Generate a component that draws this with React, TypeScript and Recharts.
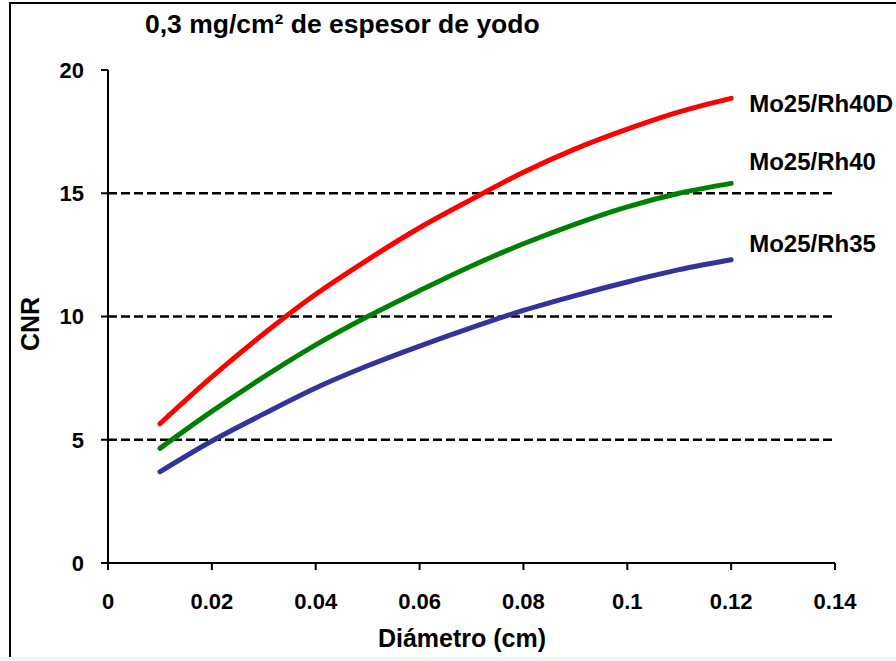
import { Line, LineChart, ReferenceLine, XAxis, YAxis } from "recharts";

const diameters = [0.01, 0.02, 0.03, 0.04, 0.05, 0.06, 0.07, 0.08, 0.09, 0.1, 0.11, 0.12];
const rh40d = [5.65, 7.55, 9.3, 10.9, 12.3, 13.6, 14.75, 15.85, 16.8, 17.6, 18.3, 18.85];
const rh40 = [4.65, 6.15, 7.55, 8.85, 10.0, 11.05, 12.05, 12.95, 13.75, 14.45, 15.0, 15.4];
const rh35 = [3.7, 4.95, 6.05, 7.1, 8.0, 8.8, 9.55, 10.25, 10.85, 11.4, 11.9, 12.3];

const xTicks = [0, 0.02, 0.04, 0.06, 0.08, 0.1, 0.12, 0.14];
const yTicks = [0, 5, 10, 15, 20];
const gridLevels = [5, 10, 15];

const FONT = "'Liberation Sans', Arial, Helvetica, sans-serif";

const rows = diameters.map((d, i) => ({
  d,
  "Mo25/Rh40D": rh40d[i],
  "Mo25/Rh40": rh40[i],
  "Mo25/Rh35": rh35[i],
}));

const series = [
  { key: "Mo25/Rh40D", color: "#ff0000", dy: 14 },
  { key: "Mo25/Rh40", color: "#008000", dy: -13 },
  { key: "Mo25/Rh35", color: "#333399", dy: -8 },
];

function endLabel(name: string, dy: number) {
  return (props: any) => {
    const { x, y, index } = props;
    if (index !== rows.length - 1) return null;
    return (
      <text key={name} x={x + 18} y={y + dy} fontFamily={FONT} fontWeight="bold" fontSize={24} fill="#000">
        {name}
      </text>
    );
  };
}

const tickStyle = { fontFamily: FONT, fontWeight: "bold", fontSize: 22, fill: "#000" };

export default function App() {
  return (
    <div style={{ position: "fixed", left: 0, top: 0, width: 896, height: 661, background: "#fff", overflow: "hidden" }}>
      <div
        style={{
          position: "absolute",
          left: 9,
          top: 2,
          width: 900,
          height: 655,
          borderLeft: "2px solid #000",
          borderTop: "2px solid #000",
          boxSizing: "border-box",
        }}
      />
      <div style={{ position: "absolute", left: 0, top: 657, width: 896, height: 4, background: "#f4f4f4" }} />
      <LineChart
        width={896}
        height={661}
        data={rows}
        margin={{ top: 70, right: 61, left: 0, bottom: 38 }}
        style={{ position: "absolute", left: 0, top: 0 }}
      >
        <XAxis
          dataKey="d"
          type="number"
          domain={[0, 0.14]}
          ticks={xTicks}
          tickFormatter={(v) => String(v)}
          tick={tickStyle}
          tickSize={7}
          tickMargin={23}
          height={60}
          stroke="#000"
          strokeWidth={2}
          interval={0}
        />
        <YAxis
          type="number"
          domain={[0, 20]}
          ticks={yTicks}
          tick={tickStyle}
          tickSize={7}
          tickMargin={17}
          width={108}
          stroke="#000"
          strokeWidth={2}
          interval={0}
        />
        {gridLevels.map((v) => (
          <ReferenceLine key={v} y={v} stroke="#000" strokeWidth={2.5} strokeDasharray="9 4" />
        ))}
        {series.map((s) => (
          <Line
            key={s.key}
            type="monotone"
            dataKey={s.key}
            stroke={s.color}
            strokeWidth={5}
            strokeLinecap="round"
            dot={false}
            activeDot={false}
            isAnimationActive={false}
            label={endLabel(s.key, s.dy)}
          />
        ))}
      </LineChart>
      <svg width={896} height={661} style={{ position: "absolute", left: 0, top: 0, pointerEvents: "none" }}>
        <text x={145} y={33} fontFamily={FONT} fontWeight="bold" fontSize={26.5} fill="#000">
          0,3 mg/cm² de espesor de yodo
        </text>
        <text x={462} y={647} textAnchor="middle" fontFamily={FONT} fontWeight="bold" fontSize={25} fill="#000">
          Diámetro (cm)
        </text>
        <text
          x={39}
          y={324}
          textAnchor="middle"
          transform="rotate(-90, 39, 324)"
          fontFamily={FONT}
          fontWeight="bold"
          fontSize={25}
          fill="#000"
        >
          CNR
        </text>
      </svg>
    </div>
  );
}
